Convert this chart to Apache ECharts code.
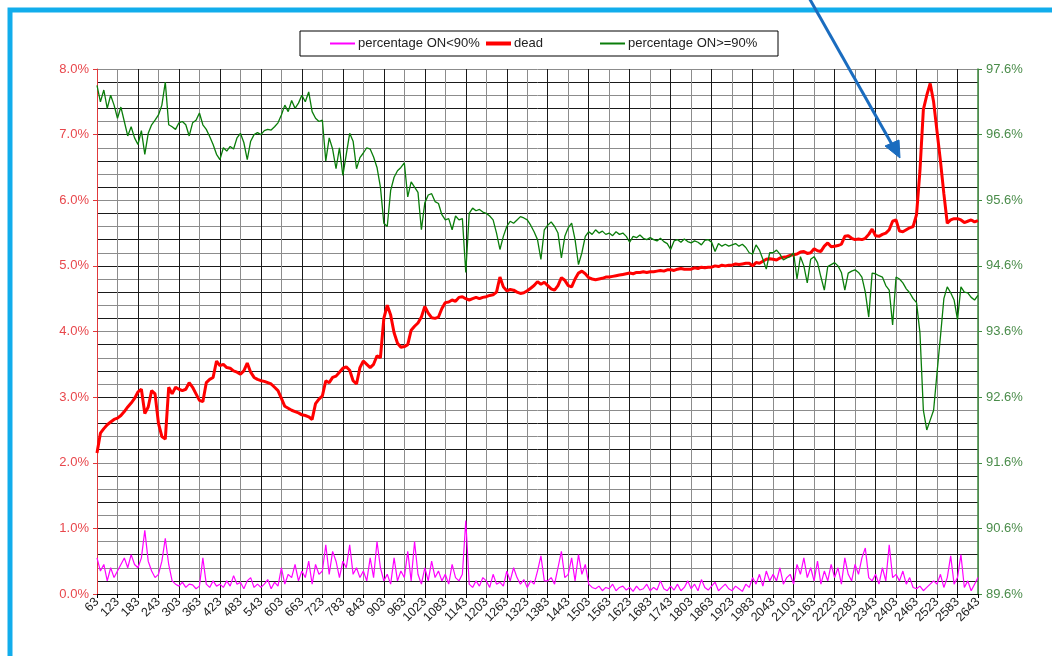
<!DOCTYPE html>
<html>
<head>
<meta charset="utf-8">
<script src="https://cdn.jsdelivr.net/npm/echarts@6/dist/echarts.min.js"></script>
<style>
html,body{margin:0;padding:0;background:#fff;}
#chart{width:1052px;height:656px;}
</style>
</head>
<body>
<div id="chart"></div>
<script>
// x categories: 63 .. 2643 in steps of 10
var xStart = 63, xStep = 10, xCount = 259;
var categories = [];
for (var i = 0; i < xCount; i++) categories.push(String(xStart + i * xStep));

var rightTicks = [89.6, 90.6, 91.6, 92.6, 93.6, 94.6, 95.6, 96.6, 97.6];

// dead (%), left axis
var dead = [
  2.15, 2.45, 2.52, 2.58, 2.62, 2.66,
  2.68, 2.72, 2.78, 2.85, 2.91, 2.98,
  3.08, 3.12, 2.75, 2.85, 3.10, 3.05,
  2.60, 2.40, 2.36, 3.15, 3.05, 3.15,
  3.12, 3.10, 3.12, 3.22, 3.15, 3.05,
  2.95, 2.93, 3.22, 3.27, 3.30, 3.55,
  3.48, 3.50, 3.45, 3.44, 3.40, 3.38,
  3.35, 3.40, 3.52, 3.38, 3.30, 3.27,
  3.25, 3.24, 3.22, 3.20, 3.15, 3.10,
  2.98, 2.86, 2.83, 2.80, 2.78, 2.76,
  2.73, 2.72, 2.70, 2.66, 2.90, 2.97,
  3.02, 3.25, 3.22, 3.30, 3.32, 3.38,
  3.44, 3.46, 3.41, 3.25, 3.20, 3.45,
  3.55, 3.50, 3.45, 3.50, 3.63, 3.60,
  4.20, 4.40, 4.25, 3.98, 3.82, 3.76,
  3.77, 3.80, 4.02, 4.08, 4.13, 4.22,
  4.38, 4.28, 4.21, 4.20, 4.22, 4.35,
  4.44, 4.45, 4.48, 4.46, 4.52, 4.53,
  4.50, 4.48, 4.50, 4.52, 4.50, 4.52,
  4.53, 4.55, 4.56, 4.60, 4.83, 4.68,
  4.62, 4.64, 4.63, 4.60, 4.58, 4.59,
  4.62, 4.66, 4.70, 4.76, 4.72, 4.75,
  4.70, 4.65, 4.63, 4.70, 4.82, 4.78,
  4.70, 4.68, 4.80, 4.89, 4.92, 4.88,
  4.82, 4.80, 4.79, 4.80, 4.81, 4.83,
  4.83, 4.84, 4.85, 4.86, 4.87, 4.88,
  4.89, 4.88, 4.90, 4.90, 4.91, 4.90,
  4.91, 4.91, 4.92, 4.93, 4.92, 4.94,
  4.94, 4.93, 4.95, 4.96, 4.95, 4.95,
  4.95, 4.97, 4.96, 4.98, 4.97, 4.98,
  4.98, 5.00, 4.99, 5.01, 5.00, 5.01,
  5.01, 5.03, 5.02, 5.03, 5.04, 5.04,
  5.00, 5.05, 5.04, 5.07, 5.10, 5.11,
  5.10, 5.09, 5.12, 5.13, 5.14, 5.16,
  5.17, 5.18, 5.21, 5.22, 5.19, 5.20,
  5.26, 5.23, 5.22, 5.30, 5.35, 5.29,
  5.30, 5.31, 5.33, 5.45, 5.46, 5.42,
  5.40, 5.41, 5.40, 5.42, 5.48, 5.56,
  5.46, 5.45, 5.48, 5.50, 5.55, 5.68,
  5.70, 5.53, 5.52, 5.55, 5.58, 5.60,
  5.78, 6.45, 7.38, 7.60, 7.78, 7.50,
  7.05, 6.60, 6.10, 5.65, 5.70, 5.72,
  5.72, 5.70, 5.66, 5.68, 5.70, 5.67,
  5.69
];

// percentage ON>=90% (%), right axis
var onHigh = [
  97.35, 97.10, 97.28, 97.00, 97.20, 97.05,
  96.85, 97.02, 96.80, 96.58, 96.72, 96.55,
  96.45, 96.66, 96.30, 96.62, 96.75, 96.82,
  96.90, 97.05, 97.40, 96.75, 96.72, 96.68,
  96.78, 96.80, 96.75, 96.58, 96.78, 96.82,
  96.93, 96.75, 96.68, 96.57, 96.45, 96.30,
  96.22, 96.40, 96.35, 96.42, 96.38, 96.55,
  96.62, 96.48, 96.22, 96.50, 96.60, 96.63,
  96.60, 96.66, 96.68, 96.67, 96.72, 96.78,
  96.90, 97.05, 96.95, 97.12, 97.00, 97.08,
  97.20, 97.10, 97.25, 96.95, 96.85, 96.80,
  96.82, 96.20, 96.55, 96.38, 96.08, 96.40,
  95.98, 96.30, 96.62, 96.50, 96.08, 96.25,
  96.32, 96.40, 96.38, 96.26, 96.10, 95.80,
  95.25, 95.20, 95.75, 95.95, 96.05, 96.10,
  96.17, 95.65, 95.88, 95.80, 95.72, 95.15,
  95.56, 95.68, 95.70, 95.58, 95.55, 95.38,
  95.30, 95.32, 95.15, 95.36, 95.30, 95.32,
  94.50, 95.40, 95.48, 95.44, 95.46, 95.42,
  95.40, 95.36, 95.30, 95.10, 94.85, 95.05,
  95.20, 95.28, 95.25, 95.30, 95.35, 95.33,
  95.30, 95.22, 95.12, 95.00, 94.70, 95.15,
  95.22, 95.27, 95.20, 95.10, 94.72, 95.05,
  95.18, 95.25, 95.00, 94.62, 94.80, 95.05,
  95.12, 95.08, 95.15, 95.10, 95.13, 95.08,
  95.10, 95.06, 95.12, 95.08, 95.10, 95.05,
  94.96, 95.05, 95.03, 95.07, 95.02, 95.00,
  95.03, 95.00, 94.98, 95.02, 94.97, 94.94,
  94.85, 94.98, 95.00, 94.96, 95.01, 94.97,
  94.95, 94.98, 94.96, 94.92, 94.99, 95.00,
  94.96, 94.82, 94.94, 94.90, 94.93, 94.90,
  94.92, 94.94, 94.90, 94.93, 94.88, 94.80,
  94.78, 94.92, 94.84, 94.70, 94.55, 94.80,
  94.80, 94.84, 94.78, 94.69, 94.72, 94.74,
  94.80, 94.40, 94.74, 94.60, 94.34, 94.70,
  94.74, 94.65, 94.43, 94.23, 94.59, 94.62,
  94.65, 94.60, 94.50, 94.23, 94.49, 94.52,
  94.54, 94.50, 94.43, 94.20, 93.82, 94.49,
  94.48, 94.45, 94.43, 94.30, 94.23, 93.70,
  94.43, 94.40, 94.34, 94.25, 94.19, 94.10,
  94.04, 93.58, 92.40, 92.10, 92.25, 92.40,
  92.97, 93.52, 94.10, 94.28, 94.19, 94.08,
  93.78, 94.28, 94.20, 94.19, 94.12, 94.08,
  94.15
];

// percentage ON<90% (%), left axis
var onLow = [
  0.55, 0.35, 0.45, 0.20, 0.40, 0.25,
  0.35, 0.45, 0.55, 0.40, 0.60, 0.45,
  0.40, 0.55, 0.97, 0.50, 0.35, 0.25,
  0.30, 0.50, 0.85, 0.45, 0.20, 0.15,
  0.12, 0.18, 0.10, 0.15, 0.14, 0.08,
  0.12, 0.55, 0.15, 0.10, 0.20, 0.12,
  0.15, 0.10, 0.20, 0.12, 0.28, 0.15,
  0.18, 0.08, 0.20, 0.25, 0.10, 0.15,
  0.10, 0.15, 0.22, 0.08, 0.18, 0.12,
  0.40, 0.15, 0.30, 0.25, 0.45, 0.20,
  0.35, 0.25, 0.50, 0.15, 0.45, 0.30,
  0.35, 0.75, 0.30, 0.65, 0.50, 0.25,
  0.50, 0.40, 0.75, 0.30, 0.40, 0.25,
  0.35, 0.20, 0.55, 0.25, 0.80, 0.40,
  0.20, 0.30, 0.15, 0.55, 0.20, 0.35,
  0.25, 0.65, 0.20, 0.80, 0.30, 0.15,
  0.40, 0.20, 0.50, 0.25, 0.35, 0.20,
  0.30, 0.15, 0.45, 0.25, 0.20, 0.30,
  1.12, 0.15, 0.10, 0.20, 0.12, 0.25,
  0.20, 0.10, 0.30, 0.15, 0.18, 0.12,
  0.35, 0.20, 0.40, 0.25, 0.15, 0.22,
  0.10, 0.20, 0.15, 0.35, 0.58, 0.20,
  0.20, 0.25, 0.15, 0.40, 0.65, 0.25,
  0.30, 0.55, 0.20, 0.60, 0.30, 0.45,
  0.15, 0.10, 0.08, 0.12, 0.05, 0.10,
  0.08, 0.15, 0.05, 0.10, 0.12, 0.06,
  0.10, 0.04, 0.12, 0.06, 0.08, 0.15,
  0.05, 0.10, 0.06, 0.20, 0.08, 0.05,
  0.12, 0.06, 0.15, 0.05, 0.10, 0.20,
  0.08, 0.15, 0.05, 0.22, 0.10, 0.06,
  0.12, 0.18, 0.05, 0.10, 0.15, 0.08,
  0.05, 0.12, 0.08, 0.04, 0.15, 0.10,
  0.25, 0.15, 0.30, 0.12, 0.35, 0.20,
  0.30, 0.20, 0.40, 0.15, 0.25, 0.30,
  0.15, 0.45, 0.30, 0.55, 0.25, 0.40,
  0.20, 0.50, 0.15, 0.35, 0.20, 0.45,
  0.25, 0.40, 0.15, 0.55, 0.30, 0.20,
  0.45, 0.30, 0.55, 0.70, 0.25, 0.20,
  0.30, 0.15, 0.40, 0.20, 0.75, 0.25,
  0.30, 0.20, 0.35, 0.15, 0.25, 0.10,
  0.08, 0.12, 0.05, 0.10, 0.15, 0.20,
  0.15, 0.30, 0.10, 0.25, 0.58, 0.15,
  0.25, 0.60, 0.10, 0.20, 0.05, 0.15,
  0.25
];

var FONT = 'Liberation Sans, Arial, sans-serif';
var chart = echarts.init(document.getElementById('chart'), null, {renderer: 'canvas'});

function legendAt(left, name, h) {
  return {
    left: left, top: 37, padding: 0, itemWidth: 25, itemHeight: h, itemGap: 5,
    icon: 'rect',
    data: [name], selectedMode: false,
    textStyle: {fontFamily: FONT, fontSize: 13, color: '#222', padding: [0, 0, 0, -2]}
  };
}

var option = {
  backgroundColor: '#fff',
  animation: false,
  legend: [
    legendAt(330, 'percentage ON<90%', 2),
    legendAt(486, 'dead', 4),
    legendAt(600, 'percentage ON>=90%', 2)
  ],
  grid: {left: 97, right: 74, top: 69, bottom: 62},
  xAxis: {
    type: 'category', data: categories, boundaryGap: false,
    axisLine: {lineStyle: {color: '#000', width: 1}},
    axisTick: {interval: 5, length: 4, lineStyle: {color: '#000'}},
    axisLabel: {interval: 5, rotate: 45, margin: 6, fontFamily: FONT, fontSize: 12.5, color: '#222'},
    splitLine: {show: true, interval: 5, lineStyle: {color: ['#1a1a1a', '#8c8c8c'], width: 1}}
  },
  yAxis: [
    {
      type: 'value', position: 'left', min: 0, max: 8, interval: 1,
      axisLine: {show: true, lineStyle: {color: '#e0393b', width: 1}},
      axisTick: {show: true, length: 4, lineStyle: {color: '#e0393b'}},
      axisLabel: {
        margin: 8, fontFamily: FONT, fontSize: 13, color: '#e8474c',
        formatter: function (v) { return v.toFixed(1) + '%'; }
      },
      splitLine: {show: false}
    },
    {
      type: 'value', position: 'right', min: 89.6, max: 97.6, interval: 0.2,
      axisLine: {show: true, lineStyle: {color: '#3c8a3c', width: 1.5}},
      axisTick: {show: true, length: 4, customValues: rightTicks, lineStyle: {color: '#3c8a3c'}},
      axisLabel: {
        customValues: rightTicks, margin: 8, fontFamily: FONT, fontSize: 13, color: '#4a8c4a',
        formatter: function (v) { var d = v - 89.6; return Math.abs(d - Math.round(d)) < 1e-6 ? v.toFixed(1) + '%' : ''; }
      },
      splitLine: {show: false}
    },
    {
      // grid-only axis: horizontal lines every 0.2%
      type: 'value', position: 'left', min: 0, max: 8, interval: 0.2, z: 0,
      axisLine: {show: false}, axisTick: {show: false}, axisLabel: {show: false},
      splitLine: {show: true, lineStyle: {color: ['#8c8c8c', '#1a1a1a'], width: 1}}
    }
  ],
  series: [
    {name: 'percentage ON<90%', type: 'line', yAxisIndex: 0, data: onLow, symbol: 'none',
     lineStyle: {color: '#ff00ff', width: 1.2}, itemStyle: {color: '#ff00ff'}},
    {name: 'dead', type: 'line', yAxisIndex: 0, data: dead, symbol: 'none',
     lineStyle: {color: '#ff0000', width: 3}, itemStyle: {color: '#ff0000'}},
    {name: 'percentage ON>=90%', type: 'line', yAxisIndex: 1, data: onHigh, symbol: 'none',
     lineStyle: {color: '#0a7d0a', width: 1.3}, itemStyle: {color: '#0a7d0a'}}
  ],
  graphic: [
    {type: 'rect', z: 100, silent: true, shape: {x: 300, y: 31, width: 478, height: 25},
     style: {fill: null, stroke: '#000', lineWidth: 1}},
    {type: 'rect', z: 100, silent: true, shape: {x: 10, y: 10, width: 1070, height: 680},
     style: {fill: null, stroke: '#12adec', lineWidth: 5}},
    {type: 'line', z: 101, silent: true, shape: {x1: 808, y1: -4, x2: 894, y2: 148},
     style: {stroke: '#1a6cbf', lineWidth: 3}},
    {type: 'polygon', z: 101, silent: true, shape: {points: [[900, 158], [885, 146], [899, 140]]},
     style: {fill: '#1a6cbf', stroke: '#1a6cbf', lineWidth: 1}}
  ]
};
chart.setOption(option);
</script>
</body>
</html>
